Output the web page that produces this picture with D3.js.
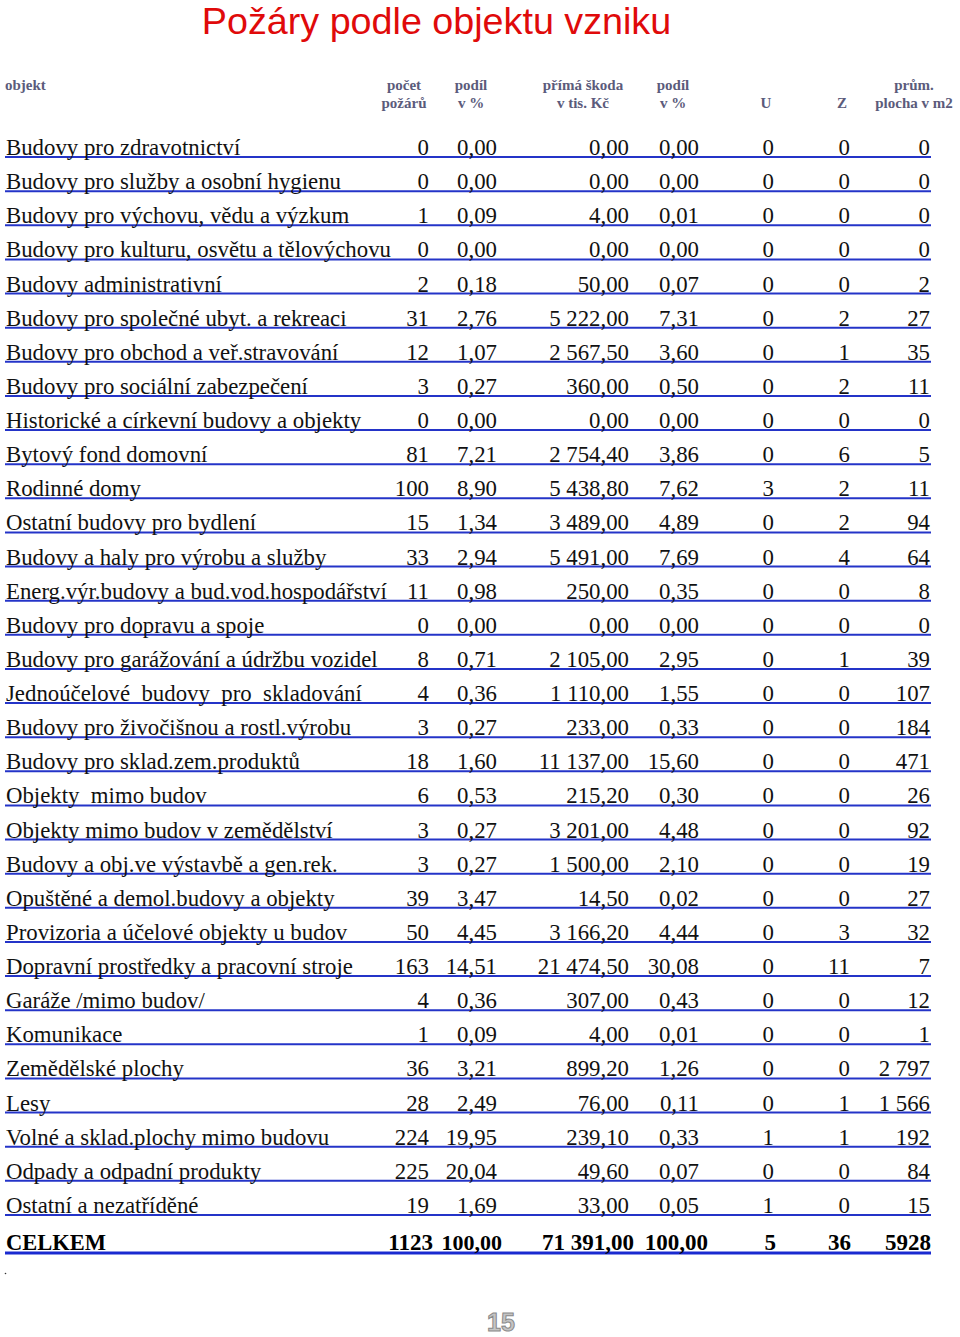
<!DOCTYPE html>
<html><head><meta charset="utf-8">
<script src="https://cdn.jsdelivr.net/npm/d3@7"></script>
<style>
html,body{margin:0;padding:0;background:#fff;}
svg{display:block;}
text{white-space:pre;}
</style></head>
<body>
<script>
const title = "Požáry podle objektu vzniku";
const headers = [
  ["objekt", ""], ["počet", "požárů"], ["podíl", "v %"], ["přímá škoda", "v tis. Kč"],
  ["podíl", "v %"], ["", "U"], ["", "Z"], ["prům.", "plocha v m2"]
];
const categories = [
  "Budovy pro zdravotnictví",
  "Budovy pro služby a osobní hygienu",
  "Budovy pro výchovu, vědu a výzkum",
  "Budovy pro kulturu, osvětu a tělovýchovu",
  "Budovy administrativní",
  "Budovy pro společné ubyt. a rekreaci",
  "Budovy pro obchod a veř.stravování",
  "Budovy pro sociální zabezpečení",
  "Historické a církevní budovy a objekty",
  "Bytový fond domovní",
  "Rodinné domy",
  "Ostatní budovy pro bydlení",
  "Budovy a haly pro výrobu a služby",
  "Energ.výr.budovy a bud.vod.hospodářství",
  "Budovy pro dopravu a spoje",
  "Budovy pro garážování a údržbu vozidel",
  "Jednoúčelové  budovy  pro  skladování",
  "Budovy pro živočišnou a rostl.výrobu",
  "Budovy pro sklad.zem.produktů",
  "Objekty  mimo budov",
  "Objekty mimo budov v zemědělství",
  "Budovy a obj.ve výstavbě a gen.rek.",
  "Opuštěné a demol.budovy a objekty",
  "Provizoria a účelové objekty u budov",
  "Dopravní prostředky a pracovní stroje",
  "Garáže /mimo budov/",
  "Komunikace",
  "Zemědělské plochy",
  "Lesy",
  "Volné a sklad.plochy mimo budovu",
  "Odpady a odpadní produkty",
  "Ostatní a nezatříděné"
];
const fires      = [0,0,1,0,2,31,12,3,0,81,100,15,33,11,0,8,4,3,18,6,3,3,39,50,163,4,1,36,28,224,225,19];
const fireShare  = [0,0,0.09,0,0.18,2.76,1.07,0.27,0,7.21,8.90,1.34,2.94,0.98,0,0.71,0.36,0.27,1.60,0.53,0.27,0.27,3.47,4.45,14.51,0.36,0.09,3.21,2.49,19.95,20.04,1.69];
const damage     = [0,0,4,0,50,5222,2567.5,360,0,2754.4,5438.8,3489,5491,250,0,2105,1110,233,11137,215.2,3201,1500,14.5,3166.2,21474.5,307,4,899.2,76,239.1,49.6,33];
const damageShare= [0,0,0.01,0,0.07,7.31,3.60,0.50,0,3.86,7.62,4.89,7.69,0.35,0,2.95,1.55,0.33,15.60,0.30,4.48,2.10,0.02,4.44,30.08,0.43,0.01,1.26,0.11,0.33,0.07,0.05];
const injured    = [0,0,0,0,0,0,0,0,0,0,3,0,0,0,0,0,0,0,0,0,0,0,0,0,0,0,0,0,0,1,0,1];
const dead       = [0,0,0,0,0,2,1,2,0,6,2,2,4,0,0,1,0,0,0,0,0,0,0,3,11,0,0,0,1,1,0,0];
const area       = [0,0,0,0,2,27,35,11,0,5,11,94,64,8,0,39,107,184,471,26,92,19,27,32,7,12,1,2797,1566,192,84,15];
const totalLabel = "CELKEM";
const totals     = [1123, 100.00, 71391.00, 100.00, 5, 36, 5928];
const pageNumber = "15";

const W = 960, H = 1337;
const loc = d3.formatLocale({decimal: ",", thousands: " ", grouping: [3]});
const fInt = loc.format(",d"), fDec = loc.format(",.2f"), fIntPlain = loc.format("d");

const svg = d3.select("body").append("svg").attr("width", W).attr("height", H);

svg.append("text").attr("x", 436.5).attr("y", 34).attr("text-anchor", "middle")
  .attr("font-family", "'Liberation Sans', Arial, sans-serif").attr("font-size", 37.7)
  .attr("fill", "#e00a0a").text(title);

// header
const headerX = [5, 404, 471, 583, 673, 766, 842, 914];
const hg = svg.append("g").attr("font-family", "'Liberation Serif', 'Times New Roman', serif")
  .attr("font-weight", "bold").attr("font-size", 15).attr("fill", "#5b5b7b");
headers.forEach((h, i) => {
  [0, 1].forEach(k => {
    if (!h[k]) return;
    hg.append("text").attr("x", headerX[i]).attr("y", k ? 108 : 90)
      .attr("text-anchor", i === 0 ? "start" : "middle").text(h[k]);
  });
});

const y = d3.scaleLinear().domain([0, categories.length - 1]).range([155, 1213]);
const colRight = [429, 497, 629, 699, 774, 850, 930];
const columns = [
  fires.map(fInt), fireShare.map(fDec), damage.map(fDec), damageShare.map(fDec),
  injured.map(fInt), dead.map(fInt), area.map(fInt)
];

const rows = svg.append("g").attr("font-family", "'Liberation Serif', 'Times New Roman', serif")
  .attr("font-size", 22.8).attr("fill", "#111");

rows.selectAll("line.row").data(categories).join("line").attr("class", "row")
  .attr("x1", 5).attr("x2", 931)
  .attr("y1", (d, i) => y(i) + 2).attr("y2", (d, i) => y(i) + 2)
  .attr("stroke", "#2434c8").attr("stroke-width", 2);

rows.selectAll("text.cat").data(categories).join("text").attr("class", "cat")
  .attr("x", 6).attr("y", (d, i) => y(i)).text(d => d);

columns.forEach((col, c) => {
  rows.selectAll("text.c" + c).data(col).join("text").attr("class", "c" + c)
    .attr("x", colRight[c]).attr("y", (d, i) => y(i)).attr("text-anchor", "end").text(d => d);
});

// total row
const yT = 1250;
const tg = svg.append("g").attr("font-family", "'Liberation Serif', 'Times New Roman', serif")
  .attr("font-size", 22.5).attr("font-weight", "bold").attr("fill", "#000");
tg.append("line").attr("x1", 5).attr("x2", 931).attr("y1", yT + 3).attr("y2", yT + 3)
  .attr("stroke", "#1a2ad0").attr("stroke-width", 3);
tg.append("text").attr("x", 6).attr("y", yT).text(totalLabel);
const totalRight = [433, 502, 634, 708, 776, 851, 931];
const totalSize = [23, 22, 23, 23, 23, 23, 23];
const totalFmt = [fIntPlain, fDec, fDec, fDec, fIntPlain, fIntPlain, fIntPlain];
totals.forEach((v, c) => {
  tg.append("text").attr("x", totalRight[c]).attr("y", yT).attr("text-anchor", "end")
    .attr("font-size", totalSize[c]).text(totalFmt[c](v));
});

svg.append("circle").attr("cx", 5.5).attr("cy", 1273.5).attr("r", 0.8).attr("fill", "#333");

svg.append("text").attr("x", 501).attr("y", 1331).attr("text-anchor", "middle")
  .attr("font-family", "'Liberation Sans', Arial, sans-serif").attr("font-weight", "bold")
  .attr("font-size", 25).attr("fill", "#c4c4c4").attr("stroke", "#8a8a8a").attr("stroke-width", 1)
  .text(pageNumber);
</script>
</body></html>
